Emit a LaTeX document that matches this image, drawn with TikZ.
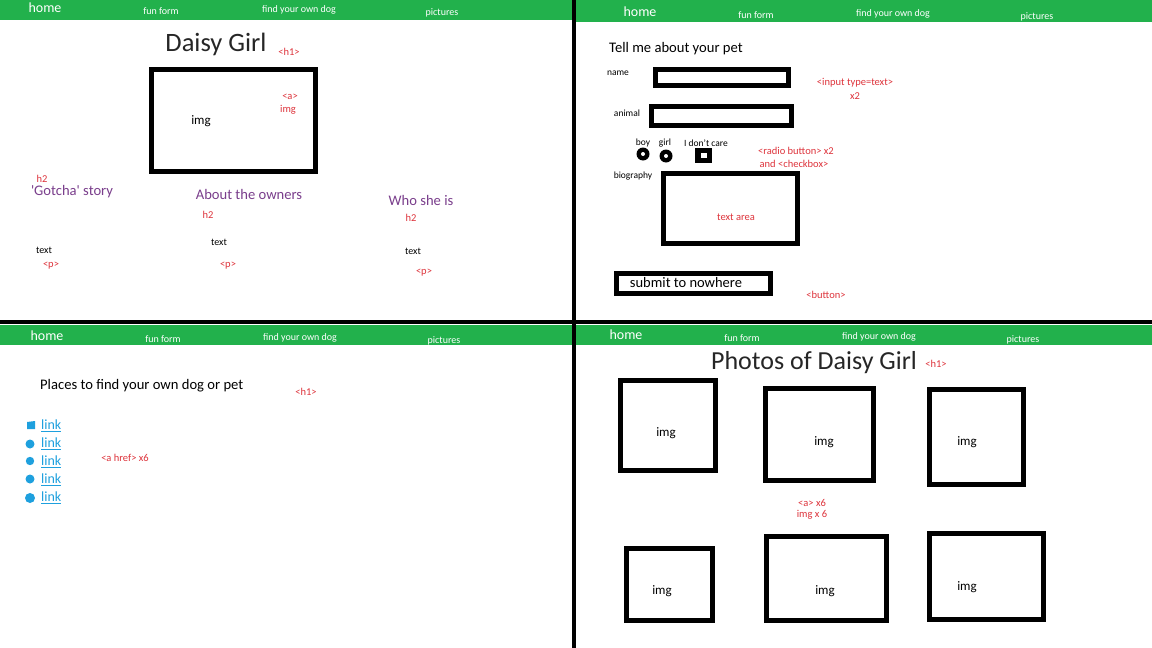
\documentclass[tikz,border=0pt]{standalone}
\usepackage{fontspec}
\setmainfont{Carlito}
\usepackage{xcolor}
\definecolor{barre}{RGB}{34,177,76}
\definecolor{balise}{RGB}{222,52,60}
\definecolor{titre}{RGB}{122,62,140}
\definecolor{lien}{RGB}{30,160,222}
\usetikzlibrary{positioning}

\newcommand{\fs}[1]{\fontsize{#1}{#1}\selectfont}

\begin{document}
\begin{tikzpicture}[x=1pt, y=-1pt,
	nav/.style={text=white, inner sep=0pt, font=\fs{10}},
	navhome/.style={text=white, inner sep=0pt, font=\fs{14}},
	note/.style={text=balise, inner sep=0pt, font=\fs{10.5}},
	txt/.style={text=black, inner sep=0pt, font=\fs{10}},
	sous/.style={text=titre, inner sep=0pt, font=\fs{14.6}},
	cadre/.style={draw=black, line width=5pt},
	lienbox/.style={text=lien, inner sep=0pt, anchor=west, font=\fs{14}}]
	\useasboundingbox (0,0) rectangle (1152,648);
	\fill[white] (0,0) rectangle (1152,648);
	
	% Barres de navigation
	\fill[barre] (0,0) rectangle (574,20);
	\fill[barre] (576,0) rectangle (1152,22);
	\fill[barre] (0,325) rectangle (575,345);
	\fill[barre] (576,325) rectangle (1152,345);
	
	% Séparations
	\draw[line width=4pt] (0,322) -- (1152,322);
	\draw[line width=4pt] (574,0) -- (574,648);
	
	\node[navhome] (hA) at (45,8) {home};
	\node[nav] (fA) at (161,11) {fun form};
	\node[nav] (dA) at (299,10) {find your own dog};
	\node[nav] (pA) at (442,13) {pictures};
	
	\node[navhome] (hB) at (640,12) {home};
	\node[nav] (fB) at (756,15) {fun form};
	\node[nav] (dB) at (893,14) {find your own dog};
	\node[nav] (pB) at (1037,17) {pictures};
	
	\node[navhome] (hC) at (47,336) {home};
	\node[nav] (fC) at (163,339) {fun form};
	\node[nav] (dC) at (300,338) {find your own dog};
	\node[nav] (pC) at (444,341) {pictures};
	
	\node[navhome] (hD) at (626,335) {home};
	\node[nav] (fD) at (742,338) {fun form};
	\node[nav] (dD) at (879,337) {find your own dog};
	\node[nav] (pD) at (1023,340) {pictures};
	
	% Page d'accueil
	\node[inner sep=0pt, font=\fs{26.5}, text=black!85] (daisy) at (216,44) {Daisy Girl};
	\node[note] (daisyh1) at (289,52) {<h1>};
	\draw[cadre] (151,69) rectangle (315,171);
	\node[inner sep=0pt, font=\fs{13}] (img0) at (201,121) {img};
	\node[note] (ahome) at (290,97) {<a>};
	\node[note] (imghome) at (288,110) {img};
	
	\node[note] (h2a) at (42,179) {h2};
	\node[sous] (gotcha) at (72,192) {\textquotesingle Gotcha\textquotesingle{} story};
	\node[txt] (texta) at (44,250) {text};
	\node[note] (pa) at (51,266) {<p>};
	
	\node[sous] (owners) at (249,194) {About the owners};
	\node[note] (h2b) at (208,215) {h2};
	\node[txt] (textb) at (219,242) {text};
	\node[note] (pb) at (228,266) {<p>};
	
	\node[sous] (who) at (421,200) {Who she is};
	\node[note] (h2c) at (411,218) {h2};
	\node[txt] (textc) at (413,251) {text};
	\node[note] (pc) at (424,273) {<p>};
	
	% Formulaire
	\node[inner sep=0pt, anchor=west, font=\fs{14.6}] (pet) at (609,49) {Tell me about your pet};
	\node[txt, font=\fs{9.5}] (name) at (618,73) {name};
	\draw[cadre] (655,69) rectangle (788,85);
	\node[txt, font=\fs{9.5}] (animal) at (627,113) {animal};
	\draw[cadre] (651,106) rectangle (791,125);
	\node[note] (input) at (855,83) {<input type=text>};
	\node[note] (inputx) at (855,96) {x2};
	
	\node[txt, font=\fs{9.5}] (boy) at (643,143) {boy};
	\node[txt, font=\fs{9.5}] (girl) at (665,143) {girl};
	\node[txt, font=\fs{9.5}] (care) at (706,143) {I don't care};
	\fill (643,154) circle (6.5);
	\fill[white] (643,154) circle (2);
	\fill (666,156) circle (6.5);
	\fill[white] (666,156) circle (2);
	\fill (695,148) rectangle (712,163);
	\fill[white] (701,153) rectangle (707,158);
	\node[note] (radio) at (796,151) {<radio button> x2};
	\node[note] (check) at (794,164) {and <checkbox>};
	
	\node[txt, font=\fs{9.5}] (bio) at (633,176) {biography};
	\draw[cadre] (663,173) rectangle (797,243);
	\node[note] (area) at (736,217) {text area};
	
	\draw[cadre] (616,273) rectangle (770,293);
	\node[inner sep=0pt, font=\fs{14.5}] (submit) at (686,283) {submit to nowhere};
	\node[note] (button) at (826,295) {<button>};
	
	% Liens
	\node[inner sep=0pt, anchor=west, font=\fs{14.6}] (places) at (40,386) {Places to find your own dog or pet};
	\node[note] (placesh1) at (306,392) {<h1>};
	\fill[lien] (27,422) -- (35,421) -- (35,429) -- (27,429) -- cycle;
	\fill[lien] (30,444) circle (4.5);
	\fill[lien] (30,461) circle (4.2);
	\fill[lien] (30,479) circle (4.5);
	\fill[lien] (30,498) circle (5);
	\node[lienbox] (l1) at (41,426) {\underline{link}};
	\node[lienbox] (l2) at (41,444) {\underline{link}};
	\node[lienbox] (l3) at (41,462) {\underline{link}};
	\node[lienbox] (l4) at (41,480) {\underline{link}};
	\node[lienbox] (l5) at (41,498) {\underline{link}};
	\node[note] (href) at (125,458) {<a href> x6};
	
	% Photos
	\node[inner sep=0pt, font=\fs{26}, text=black!85] (photos) at (814,363) {Photos of Daisy Girl};
	\node[note] (photosh1) at (936,364) {<h1>};
	\draw[cadre] (620,380) rectangle (715,470);
	\node[inner sep=0pt, font=\fs{13}] (i1) at (666,433) {img};
	\draw[cadre] (765,388) rectangle (873,480);
	\node[inner sep=0pt, font=\fs{13}] (i2) at (824,442) {img};
	\draw[cadre] (929,389) rectangle (1023,484);
	\node[inner sep=0pt, font=\fs{13}] (i3) at (967,442) {img};
	\draw[cadre] (626,548) rectangle (712,620);
	\node[inner sep=0pt, font=\fs{13}] (i4) at (662,591) {img};
	\draw[cadre] (766,536) rectangle (886,620);
	\node[inner sep=0pt, font=\fs{13}] (i5) at (825,591) {img};
	\draw[cadre] (929,533) rectangle (1043,619);
	\node[inner sep=0pt, font=\fs{13}] (i6) at (967,587) {img};
	\node[note] (ax6) at (812,503) {<a> x6};
	\node[note] (imgx6) at (812,515) {img x 6};
\end{tikzpicture}
\end{document}
